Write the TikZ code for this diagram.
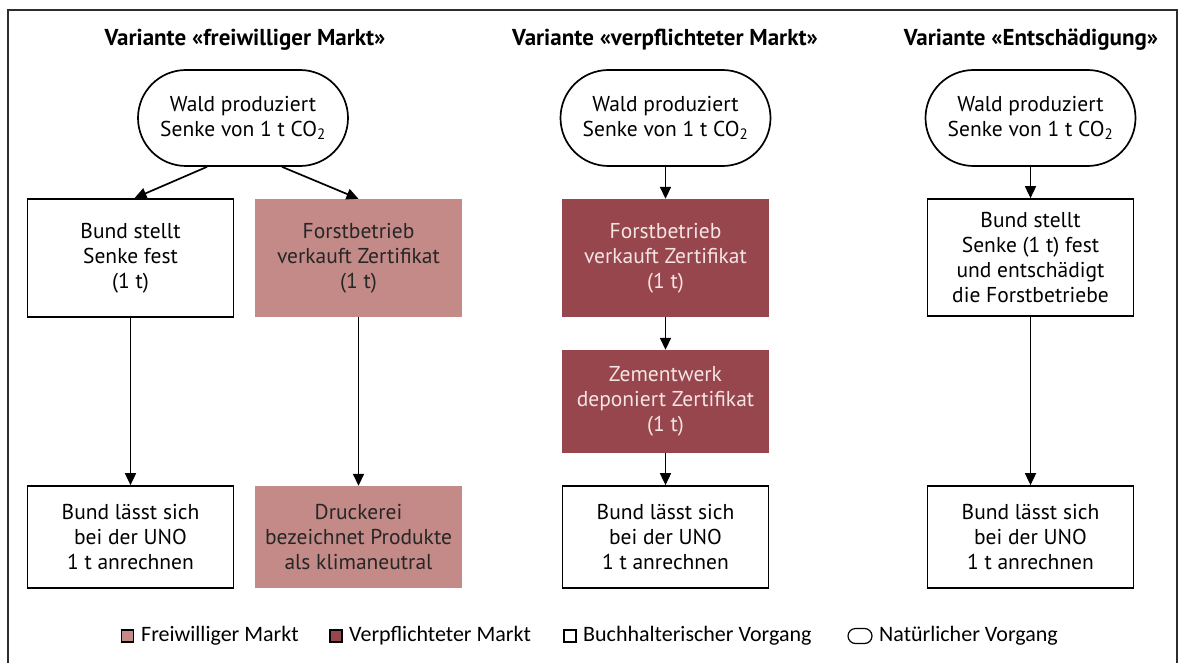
\documentclass[tikz,border=0pt]{standalone}
\usepackage{fontspec}
\setmainfont{PT Sans}
\newfontfamily\legfont{Carlito}
\usetikzlibrary{shapes.misc,arrows.meta,calc}
\definecolor{pinkfill}{RGB}{195,138,135}
\definecolor{darkfill}{RGB}{150,70,76}
\definecolor{framecol}{RGB}{45,45,45}
\definecolor{darktext}{RGB}{245,228,228}
\begin{document}
\begin{tikzpicture}[x=1pt,y=-1pt,
  boxtext/.style={align=center, inner sep=0pt, font=\fontsize{21.5}{24.8}\selectfont},
  wbox/.style={boxtext, draw=black, line width=1.7pt, fill=white, minimum width=206pt, minimum height=118pt},
  pbox/.style={boxtext, fill=pinkfill, text=black!85, minimum width=207pt, minimum height=118pt},
  dbox/.style={boxtext, fill=darkfill, text=darktext, minimum width=207pt, minimum height=118pt},
  natural/.style={boxtext, draw=black, line width=1.7pt, rounded rectangle, minimum width=210pt, minimum height=96pt},
  arr/.style={line width=1.7pt, -{Triangle[length=12pt,width=11pt]}},
  title/.style={font=\bfseries\fontsize{23}{26}\selectfont},
  legsq/.style={draw=black, line width=1.1pt, minimum width=12pt, minimum height=12pt, inner sep=0pt},
  legtext/.style={anchor=west, inner sep=0pt, font=\legfont\fontsize{22}{24}\selectfont}
]
\useasboundingbox (0,0) rectangle (1182,663);
\draw[framecol, line width=2pt] (8,670) -- (8,10) -- (1177,10) -- (1177,670);

% titles
\node[title] (t1) at (245,40) {Variante «freiwilliger Markt»};
\node[title] (t2) at (665,40) {Variante «verpflichteter Markt»};
\node[title] (t3) at (1031,40) {Variante «Entschädigung»};

% column 1
\node[natural] (s1) at (243,118) {Wald produziert\\Senke von 1 t CO\textsubscript{2}};
\node[wbox] (w1) at (130.5,258) {Bund stellt\\Senke fest\\(1 t)};
\node[pbox] (p1) at (358.5,258) {Forstbetrieb\\verkauft Zertifikat\\(1 t)};
\node[wbox, minimum height=102pt] (w1b) at (130.5,537) {Bund lässt sich\\bei der UNO\\1 t anrechnen};
\node[pbox, minimum height=102pt] (p1b) at (358.5,537) {Druckerei\\bezeichnet Produkte\\als klimaneutral};
\draw[arr] ($(s1.south)+(-36,0)$) -- ($(w1.north)+(4,0)$);
\draw[arr] ($(s1.south)+(39,0)$) -- (p1.north);
\draw[arr] (w1.south) -- (w1b.north);
\draw[arr] (p1.south) -- (p1b.north);

% column 2
\node[natural] (s2) at (665.5,118) {Wald produziert\\Senke von 1 t CO\textsubscript{2}};
\node[dbox] (d2a) at (665.5,258) {Forstbetrieb\\verkauft Zertifikat\\(1 t)};
\node[dbox, minimum height=103pt] (d2b) at (665.5,401.5) {Zementwerk\\deponiert Zertifikat\\(1 t)};
\node[wbox, minimum height=102pt] (w2) at (665.5,537) {Bund lässt sich\\bei der UNO\\1 t anrechnen};
\draw[arr] (s2.south) -- (d2a.north);
\draw[arr] (d2a.south) -- (d2b.north);
\draw[arr] (d2b.south) -- (w2.north);

% column 3
\node[natural] (s3) at (1030.5,118) {Wald produziert\\Senke von 1 t CO\textsubscript{2}};
\node[wbox, minimum height=117pt] (w3) at (1030.5,257.5) {Bund stellt\\Senke (1 t) fest\\und entschädigt\\die Forstbetriebe};
\node[wbox, minimum height=102pt] (w3b) at (1030.5,537) {Bund lässt sich\\bei der UNO\\1 t anrechnen};
\draw[arr] (s3.south) -- (w3.north);
\draw[arr] (w3.south) -- (w3b.north);

% legend
\node[legsq, fill=pinkfill] (l1) at (127.5,636) {};
\node[legtext] (l1t) at (141,636) {Freiwilliger Markt};
\node[legsq, fill=darkfill] (l2) at (336,636) {};
\node[legtext] (l2t) at (349,636) {Verpflichteter Markt};
\node[legsq, fill=white] (l3) at (570,636) {};
\node[legtext] (l3t) at (583,636) {Buchhalterischer Vorgang};
\node[draw=black, line width=1.2pt, rounded rectangle, minimum width=24pt, minimum height=15pt, inner sep=0pt] (l4) at (860,636) {};
\node[legtext] (l4t) at (879,636) {Natürlicher Vorgang};
\end{tikzpicture}
\end{document}
